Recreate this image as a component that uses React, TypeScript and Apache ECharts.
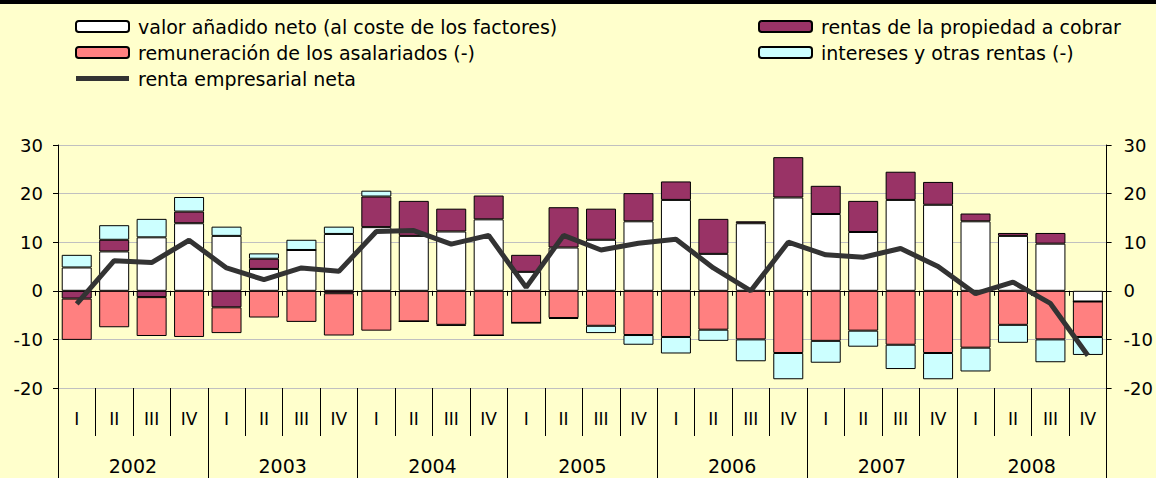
import React, { useEffect, useRef } from "react";
import * as echarts from "echarts";

const years = ["2002", "2003", "2004", "2005", "2006", "2007", "2008"];
const quarterNames = ["I", "II", "III", "IV"];
const quarters: string[] = [];
years.forEach(() => quarterNames.forEach((q) => quarters.push(q)));

const seriesNames = {
  valor: "valor añadido neto (al coste de los factores)",
  rentas: "rentas de la propiedad a cobrar",
  remun: "remuneración de los asalariados (-)",
  intereses: "intereses y otras rentas (-)",
  neta: "renta empresarial neta",
};

const valorAnadido = [
  4.8, 8.1, 11.0, 13.9,
  11.3, 4.5, 8.4, 11.7,
  13.1, 11.3, 12.2, 14.7,
  3.9, 8.9, 10.5, 14.3,
  18.7, 7.6, 13.9, 19.2,
  15.8, 12.1, 18.7, 17.7,
  14.3, 11.3, 9.7, -2.2,
];
const rentasPropiedad = [
  -1.6, 2.4, -1.3, 2.4,
  -3.4, 2.1, 0, -0.5,
  6.3, 7.2, 4.7, 4.9,
  3.5, 8.3, 6.4, 5.8,
  3.8, 7.2, 0.4, 8.3,
  5.8, 6.4, 5.8, 4.7,
  1.6, 0.6, 2.2, 0,
];
const remuneracion = [
  -8.5, -7.5, -8.0, -9.5,
  -5.3, -5.5, -6.4, -8.7,
  -8.2, -6.3, -7.0, -9.2,
  -6.6, -5.6, -7.2, -9.1,
  -9.5, -8.0, -10.0, -12.8,
  -10.3, -8.2, -11.1, -12.8,
  -11.7, -7.0, -10.0, -7.3,
];
const intereses = [
  2.6, 3.0, 3.8, 3.0,
  1.9, 1.1, 2.1, 1.5,
  1.2, 0, -0.2, 0,
  0, -0.2, -1.5, -2.0,
  -3.4, -2.3, -4.5, -5.4,
  -4.5, -3.3, -5.0, -5.4,
  -4.9, -3.7, -4.7, -3.7,
];
const rentaNeta = [
  -2.7, 6.2, 5.8, 10.4,
  4.7, 2.3, 4.7, 4.0,
  12.2, 12.4, 9.6, 11.4,
  0.7, 11.4, 8.4, 9.8,
  10.6, 4.7, 0.0, 10.0,
  7.4, 6.9, 8.7, 5.0,
  -0.6, 1.8, -2.6, -13.3,
];

const FONT = "'DejaVu Sans', 'Liberation Sans', Arial, sans-serif";

export default function App() {
  const ref = useRef<HTMLDivElement>(null);
  useEffect(() => {
    document.body.style.margin = "0";
    const chart = echarts.init(ref.current!, null, { renderer: "svg" });
    const barStyle = (color: string) => ({
      color,
      borderColor: "#000",
      borderWidth: 1,
    });
    const yAxisBase = {
      type: "value" as const,
      min: -20,
      max: 30,
      interval: 10,
      axisLine: { show: true, lineStyle: { color: "#000", width: 1 } },
      axisTick: { show: true, length: 5, lineStyle: { color: "#000" } },
    };
    const yLabel = { fontSize: 18, fontFamily: FONT, color: "#000" };
    const legendText = { fontSize: 19, fontFamily: FONT, color: "#000", padding: [0, 0, 0, 4] };
    const legendBase = {
      top: 17,
      orient: "vertical",
      padding: 0,
      itemWidth: 53,
      itemHeight: 11,
      itemGap: 7,
      selectedMode: false,
      textStyle: legendText,
    };
    chart.setOption({
      animation: false,
      backgroundColor: "#FFFFCC",
      graphic: [
        { type: "rect", left: 0, top: 0, shape: { width: 1156, height: 4 }, style: { fill: "#000" } },
      ],
      legend: [
        {
          ...legendBase,
          left: 75,
          data: [
            { name: seriesNames.valor },
            { name: seriesNames.remun },
            {
              name: seriesNames.neta,
              icon: "path://M0,0 H106 V10 H0 Z",
              itemStyle: { color: "#333333", borderWidth: 0 },
            },
          ],
        },
        {
          ...legendBase,
          left: 758,
          data: [{ name: seriesNames.rentas }, { name: seriesNames.intereses }],
        },
      ],
      grid: { left: 58, right: 45, top: 145, bottom: 90 },
      xAxis: [
        {
          type: "category",
          data: quarters,
          position: "bottom",
          axisLine: { show: false, onZero: false },
          axisTick: { show: true, length: 48, interval: 0, lineStyle: { color: "#000" } },
          axisLabel: { interval: 0, margin: 22, fontSize: 17, fontFamily: FONT, color: "#000" },
          splitLine: { show: false },
        },
        {
          type: "category",
          data: years,
          position: "bottom",
          axisLine: { show: false, onZero: false },
          axisTick: { show: true, length: 95, interval: 0, lineStyle: { color: "#000" } },
          axisLabel: { interval: 0, margin: 68, fontSize: 19, fontFamily: FONT, color: "#000" },
          splitLine: { show: false },
        },
        {
          type: "category",
          data: quarters,
          position: "bottom",
          axisLine: { show: true, onZero: true, lineStyle: { color: "#000", width: 1 } },
          axisTick: { show: true, length: 5, interval: 0, lineStyle: { color: "#000" } },
          axisLabel: { show: false },
          splitLine: { show: false },
        },
      ],
      yAxis: [
        {
          ...yAxisBase,
          position: "left",
          axisLabel: { ...yLabel, margin: 15 },
          splitLine: { show: true, lineStyle: { color: "#C0C0C0", width: 1 } },
        },
        {
          ...yAxisBase,
          position: "right",
          axisLabel: { ...yLabel, margin: 17 },
          splitLine: { show: false },
        },
      ],
      series: [
        {
          name: seriesNames.valor,
          type: "bar",
          stack: "total",
          barWidth: 30,
          itemStyle: barStyle("#FFFFFF"),
          data: valorAnadido,
        },
        {
          name: seriesNames.rentas,
          type: "bar",
          stack: "total",
          barWidth: 30,
          itemStyle: barStyle("#993366"),
          data: rentasPropiedad,
        },
        {
          name: seriesNames.remun,
          type: "bar",
          stack: "total",
          barWidth: 30,
          itemStyle: barStyle("#FF8080"),
          data: remuneracion,
        },
        {
          name: seriesNames.intereses,
          type: "bar",
          stack: "total",
          barWidth: 30,
          itemStyle: barStyle("#CCFFFF"),
          data: intereses,
        },
        {
          name: seriesNames.neta,
          type: "line",
          symbol: "none",
          color: "#333333",
          lineStyle: { width: 5, color: "#333333" },
          z: 10,
          data: rentaNeta,
        },
      ],
    });
    return () => chart.dispose();
  }, []);
  return <div ref={ref} style={{ width: 1156, height: 478 }} />;
}
